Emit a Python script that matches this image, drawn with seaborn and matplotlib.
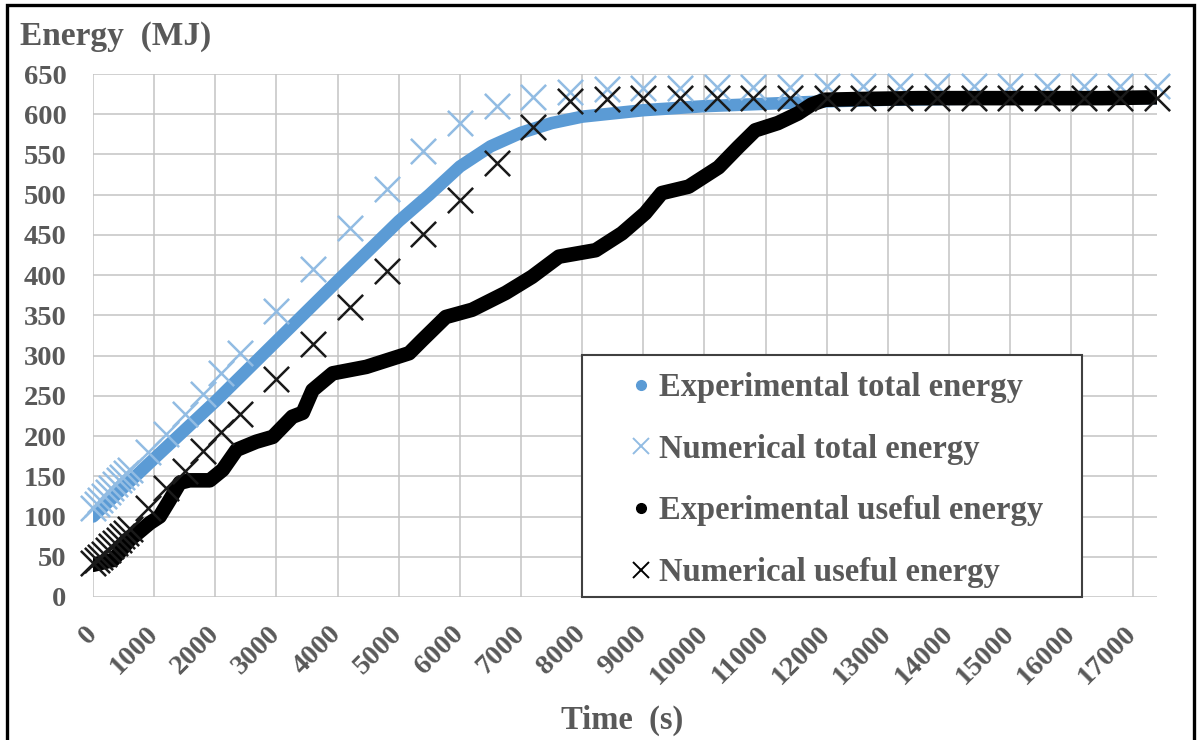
import matplotlib
matplotlib.use("Agg")
import matplotlib.pyplot as plt
import matplotlib.patches as mpatches
from matplotlib.lines import Line2D
import seaborn as sns
import pandas as pd

# ---------------- data ----------------
t_num = [0, 60, 120, 180, 240, 300, 360, 420, 480, 540, 600,
         900, 1200, 1500, 1800, 2100, 2400,
         3000, 3600, 4200, 4800, 5400, 6000, 6600, 7200, 7800, 8400, 9000,
         9600, 10200, 10800, 11400, 12000, 12600, 13200, 13800, 14400,
         15000, 15600, 16200, 16800, 17400]
num_total = [110, 115, 120, 125, 130, 135, 140, 145, 149, 154, 158,
             180, 203, 228, 252, 278, 303,
             356, 408, 459, 507, 554, 589, 610, 622, 628, 631, 632,
             633, 634, 634, 634, 635, 635, 635, 635, 635,
             635, 635, 635, 635, 635]
num_useful = [42, 46, 50, 54, 59, 63, 67, 71, 76, 80, 85,
              110, 135, 157, 181, 205, 228,
              271, 315, 360, 405, 451, 494, 539, 584, 617, 619, 620,
              620, 620, 620, 620, 620, 620, 620, 620, 620,
              620, 620, 620, 620, 620]

t_exp_total = [0, 1000, 2000, 3000, 4000, 5000, 5500, 6000, 6500, 7000, 7500,
               8000, 9000, 10000, 11000, 12000, 13000, 14000, 15000, 16000, 17400]
exp_total = [100, 172, 243, 318, 393, 467, 500, 535, 560, 577, 589,
             597, 605, 610, 613, 616, 618, 619, 620, 620, 620]

t_exp_useful = [0, 330, 600, 930, 1090, 1250, 1420, 1580, 1910, 2120, 2350,
                2670, 2940, 3260, 3430, 3590, 3920, 4470, 5170, 5380, 5770,
                6200, 6750, 7180, 7620, 8220, 8650, 9030, 9300, 9740, 10230,
                10550, 10830, 11200, 11530, 11750, 11970, 12600, 13500, 14500,
                15500, 16500, 17400]
exp_useful = [40, 46, 71, 92, 100, 120, 142, 145, 145, 158, 183,
              193, 199, 224, 229, 257, 278, 286, 303, 319, 348,
              357, 378, 398, 423, 431, 452, 477, 502, 510, 534,
              559, 580, 589, 601, 612, 618, 619, 620, 620,
              620, 620, 621]

x_ticks = list(range(0, 18000, 1000))
y_ticks = list(range(0, 700, 50))

labels = ["Experimental total energy", "Numerical total energy",
          "Experimental useful energy", "Numerical useful energy"]

# ---------------- style ----------------
sns.set_theme(style="white")
plt.rcParams["font.family"] = ["Liberation Serif", "DejaVu Serif"]
plt.rcParams["font.weight"] = "bold"
TXT = "#595959"
BLUE = "#5B9BD5"
LBLUE = "#92BCE3"

fig = plt.figure(figsize=(11.98, 7.40), dpi=100)
ax = fig.add_axes([93 / 1198, 1 - 597 / 740, (1157 - 93) / 1198, (597 - 74) / 740])

df_et = pd.DataFrame({"t": t_exp_total, "v": exp_total})
df_eu = pd.DataFrame({"t": t_exp_useful, "v": exp_useful})
df_n = pd.DataFrame({"t": t_num, "tot": num_total, "use": num_useful})

sns.lineplot(data=df_et, x="t", y="v", ax=ax, color=BLUE, linewidth=9,
             solid_capstyle="round", solid_joinstyle="round", zorder=3, sort=False)
sns.scatterplot(data=df_n, x="t", y="tot", ax=ax, marker="x", s=330,
                color=LBLUE, linewidth=1.8, zorder=4, clip_on=False)
sns.lineplot(data=df_eu, x="t", y="v", ax=ax, color="black", linewidth=10.5,
             solid_capstyle="round", solid_joinstyle="round", zorder=5, sort=False)
sns.scatterplot(data=df_n, x="t", y="use", ax=ax, marker="x", s=330,
                color="#1a1a1a", linewidth=1.8, zorder=6, clip_on=False)

ax.set_xlim(0, 17400)
ax.set_ylim(0, 650)
ax.set_xticks(x_ticks)
ax.set_yticks(y_ticks)
ax.set_xticklabels([str(v) for v in x_ticks], rotation=45, ha="right",
                   va="center", rotation_mode="anchor")
ax.set_xlabel("")
ax.set_ylabel("")
ax.grid(True, color="#c4c4c4", linewidth=1.1)
ax.set_axisbelow(True)
for s in ax.spines.values():
    s.set_visible(False)
ax.tick_params(axis="x", length=8, width=1, color="#c4c4c4", pad=16,
               labelsize=20.5, labelcolor=TXT)
ax.tick_params(axis="y", length=0, pad=19, labelsize=20.5, labelcolor=TXT)
for lab in ax.get_xticklabels() + ax.get_yticklabels():
    lab.set_fontweight("bold")

# axis titles
fig.text(20 / 1198, 1 - 36 / 740, "Energy  (MJ)", ha="left", va="center",
         fontsize=24, fontweight="bold", color=TXT)
fig.text(622 / 1198, 1 - 720 / 740, "Time  (s)", ha="center", va="center",
         fontsize=23.5, fontweight="bold", color=TXT)

# legend frame
frame = mpatches.Rectangle((0.4596, 0.0), 0.4699, 0.4627, transform=ax.transAxes,
                           facecolor="white", edgecolor="#404040", linewidth=1.5,
                           zorder=7, clip_on=False)
ax.add_patch(frame)

handles = [
    Line2D([], [], linestyle="none", marker="o", markersize=7, color=BLUE),
    Line2D([], [], linestyle="none", marker="x", markersize=11, markeredgewidth=1.4, color=LBLUE),
    Line2D([], [], linestyle="none", marker="o", markersize=7, color="black"),
    Line2D([], [], linestyle="none", marker="x", markersize=11, markeredgewidth=1.4, color="black"),
]
leg = ax.legend(handles, labels, loc="upper left",
                bbox_to_anchor=((628 - 93) / 1064, (597 - 372) / 523),
                frameon=False, borderpad=0, borderaxespad=0,
                handlelength=0.8, handletextpad=0.15, labelspacing=0.94,
                prop={"family": "Liberation Serif", "weight": "bold", "size": 23.5})
leg.set_zorder(8)
for txt in leg.get_texts():
    txt.set_color(TXT)

# outer border
border = mpatches.Rectangle((7 / 1198, -0.05), (1194 - 7) / 1198, 1.05 - 5 / 740,
                            transform=fig.transFigure, fill=False,
                            edgecolor="black", linewidth=2.4, zorder=10)
fig.patches.append(border)

fig.savefig("out.png", dpi=100)
